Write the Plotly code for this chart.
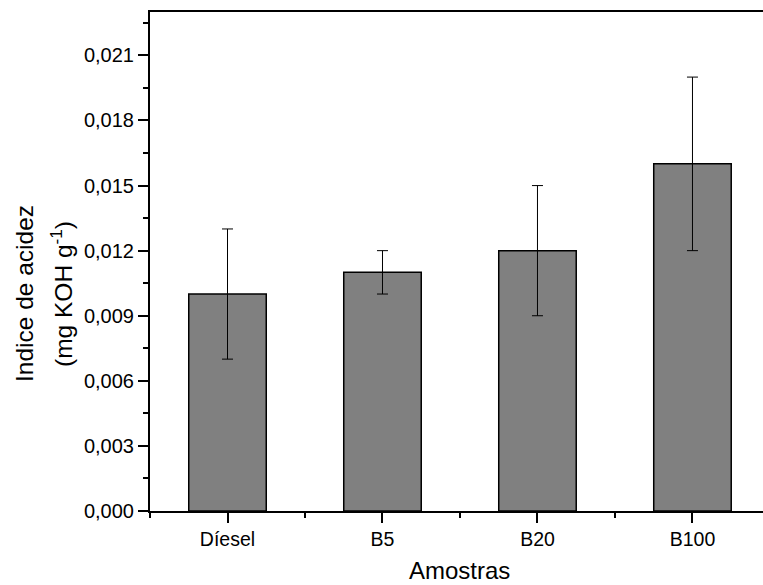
import plotly.graph_objects as go

categories = ["Díesel", "B5", "B20", "B100"]
values = [0.010, 0.011, 0.012, 0.016]
errors = [0.003, 0.001, 0.003, 0.004]
y_ticks = [0.000, 0.003, 0.006, 0.009, 0.012, 0.015, 0.018, 0.021]

FONT = "Liberation Sans, Arial, sans-serif"
W, H = 763, 585
L, R, T, B = 150, 0, 12, 74

xpos = list(range(len(categories)))

fig = go.Figure()
fig.add_trace(go.Bar(
    x=xpos, y=values, width=0.5,
    marker=dict(color="#808080", line=dict(color="black", width=1.5)),
    error_y=dict(type="data", array=errors, visible=True,
                 color="black", thickness=1, width=5.5),
    showlegend=False,
))

fig.update_layout(
    width=W, height=H,
    margin=dict(l=L, r=R, t=T, b=B),
    plot_bgcolor="white", paper_bgcolor="white",
    separators=",.",
    font=dict(family=FONT, color="black", size=20),
    xaxis=dict(
        range=[-0.5, 3.455],
        tickmode="array", tickvals=xpos, ticktext=categories,
        ticks="outside", ticklen=10, tickwidth=1.5, tickcolor="black",
        minor=dict(ticks="outside", ticklen=5, tickwidth=1.5, tickcolor="black",
                   tick0=-0.5, dtick=1),
        showline=True, linewidth=2, linecolor="black", mirror=True,
        showgrid=False, zeroline=False,
        tickfont=dict(size=19.5),
    ),
    yaxis=dict(
        range=[0, 0.023],
        tickmode="array", tickvals=y_ticks, tickformat=".3f",
        ticks="outside", ticklen=10, tickwidth=1.5, tickcolor="black",
        minor=dict(ticks="outside", ticklen=5, tickwidth=1.5, tickcolor="black",
                   tick0=0, dtick=0.0015),
        showline=True, linewidth=2, linecolor="black", mirror=False,
        showgrid=False, zeroline=False,
        tickfont=dict(size=20),
    ),
    annotations=[
        dict(text="Indice de acidez", textangle=-90, showarrow=False,
             xref="paper", yref="paper", x=0, y=0.5,
             xanchor="center", yanchor="middle",
             xshift=24 - L, yshift=(H - B - T) / 2 + T - 294,
             font=dict(size=24.5)),
        dict(text="(mg KOH g<sup>-1</sup>)", textangle=-90, showarrow=False,
             xref="paper", yref="paper", x=0, y=0.5,
             xanchor="center", yanchor="middle",
             xshift=61 - L, yshift=(H - B - T) / 2 + T - 294,
             font=dict(size=24.5)),
        dict(text="Amostras", showarrow=False,
             xref="paper", yref="paper", x=0, y=0,
             xanchor="center", yanchor="middle",
             xshift=459 - L, yshift=-(570 - (H - B)),
             font=dict(size=24)),
    ],
)

fig.write_html("out.html")
